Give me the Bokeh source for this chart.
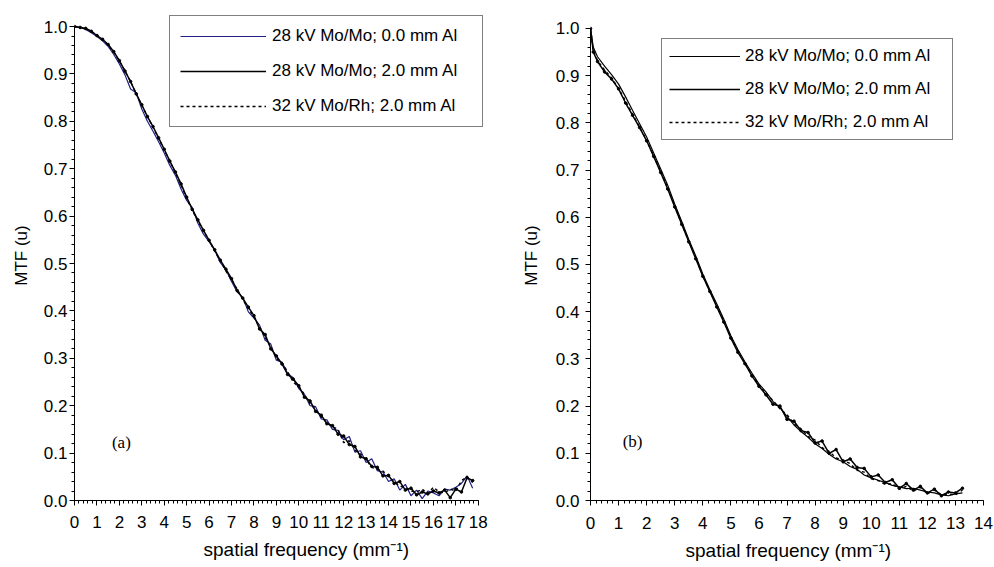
from bokeh.plotting import figure
from bokeh.layouts import row
from bokeh.models import (FixedTicker, Legend, LegendItem, Label, PrintfTickFormatter, Range1d, Title)
from bokeh.embed import file_html
from bokeh.resources import INLINE

# ---------------- data: panel (a) ----------------
freq_a = [0.0, 0.25, 0.5, 0.75, 1.0, 1.25, 1.5, 1.75,
          2.0, 2.25, 2.5, 2.75, 3.0, 3.25, 3.5, 3.75,
          4.0, 4.25, 4.5, 4.75, 5.0, 5.25, 5.5, 5.75,
          6.0, 6.25, 6.5, 6.75, 7.0, 7.25, 7.5, 7.75,
          8.0, 8.25, 8.5, 8.75, 9.0, 9.25, 9.5, 9.75,
          10.0, 10.25, 10.5, 10.75, 11.0, 11.25, 11.5, 11.75,
          12.0, 12.25, 12.5, 12.75, 13.0, 13.25, 13.5, 13.75,
          14.0, 14.25, 14.5, 14.75, 15.0, 15.25, 15.5, 15.75,
          16.0, 16.25, 16.5, 16.75, 17.0, 17.25, 17.5, 17.75]

mtf_a_28mo_0al = [1.000, 0.998, 0.994, 0.987, 0.979, 0.970, 0.958, 0.941,
                  0.921, 0.898, 0.868, 0.860, 0.826, 0.800, 0.779, 0.757,
                  0.733, 0.707, 0.686, 0.657, 0.633, 0.618, 0.585, 0.562,
                  0.546, 0.528, 0.502, 0.487, 0.462, 0.440, 0.428, 0.398,
                  0.385, 0.370, 0.338, 0.330, 0.296, 0.292, 0.268, 0.259,
                  0.236, 0.224, 0.200, 0.198, 0.172, 0.170, 0.150, 0.148,
                  0.128, 0.135, 0.102, 0.105, 0.080, 0.088, 0.063, 0.060,
                  0.040, 0.046, 0.022, 0.034, 0.010, 0.022, 0.004, 0.020,
                  0.016, 0.010, 0.024, 0.022, 0.028, 0.036, 0.052, 0.026]

mtf_a_28mo_2al = [1.000, 0.998, 0.996, 0.990, 0.981, 0.973, 0.962, 0.947,
                  0.928, 0.906, 0.884, 0.858, 0.835, 0.810, 0.789, 0.765,
                  0.741, 0.716, 0.693, 0.668, 0.640, 0.614, 0.592, 0.570,
                  0.549, 0.529, 0.507, 0.488, 0.468, 0.443, 0.427, 0.408,
                  0.390, 0.362, 0.350, 0.320, 0.305, 0.288, 0.266, 0.256,
                  0.242, 0.218, 0.210, 0.188, 0.180, 0.162, 0.158, 0.140,
                  0.136, 0.118, 0.114, 0.092, 0.088, 0.072, 0.070, 0.052,
                  0.053, 0.036, 0.040, 0.022, 0.026, 0.012, 0.018, 0.014,
                  0.020, 0.016, 0.022, 0.006, 0.024, 0.018, 0.048, 0.042]

mtf_a_32rh_2al = [1.000, 0.999, 0.995, 0.990, 0.982, 0.972, 0.961, 0.946,
                  0.927, 0.907, 0.883, 0.859, 0.833, 0.811, 0.787, 0.764,
                  0.740, 0.716, 0.691, 0.665, 0.638, 0.612, 0.590, 0.569,
                  0.549, 0.526, 0.506, 0.484, 0.466, 0.446, 0.424, 0.405,
                  0.387, 0.366, 0.344, 0.324, 0.300, 0.290, 0.272, 0.250,
                  0.240, 0.224, 0.204, 0.192, 0.176, 0.164, 0.156, 0.150,
                  0.122, 0.126, 0.106, 0.098, 0.086, 0.070, 0.066, 0.062,
                  0.050, 0.040, 0.030, 0.028, 0.020, 0.018, 0.024, 0.014,
                  0.028, 0.018, 0.016, 0.024, 0.020, 0.042, 0.050, 0.038]

# ---------------- data: panel (b) ----------------
freq_b = [0.0, 0.1, 0.25, 0.5, 0.75, 1.0, 1.25, 1.5, 1.75, 2.0,
          2.25, 2.5, 2.75, 3.0, 3.25, 3.5, 3.75, 4.0, 4.25, 4.5,
          4.75, 5.0, 5.25, 5.5, 5.75, 6.0, 6.25, 6.5, 6.75, 7.0,
          7.25, 7.5, 7.75, 8.0, 8.25, 8.5, 8.75, 9.0, 9.25, 9.5,
          9.75, 10.0, 10.25, 10.5, 10.75, 11.0, 11.25, 11.5, 11.75, 12.0,
          12.25, 12.5, 12.75, 13.0, 13.25]

mtf_b_28mo_0al = [1.000, 0.960, 0.940, 0.920, 0.902, 0.882, 0.855, 0.826, 0.798, 0.770,
                  0.736, 0.702, 0.668, 0.628, 0.591, 0.553, 0.518, 0.480, 0.447, 0.416,
                  0.384, 0.349, 0.320, 0.294, 0.270, 0.247, 0.230, 0.210, 0.196, 0.178,
                  0.160, 0.146, 0.134, 0.120, 0.110, 0.098, 0.088, 0.082, 0.072, 0.066,
                  0.054, 0.048, 0.043, 0.038, 0.032, 0.029, 0.025, 0.026, 0.022, 0.018,
                  0.016, 0.012, 0.010, 0.014, 0.016]

mtf_b_28mo_2al = [1.000, 0.950, 0.930, 0.908, 0.893, 0.872, 0.842, 0.816, 0.790, 0.762,
                  0.729, 0.695, 0.660, 0.622, 0.585, 0.548, 0.512, 0.475, 0.443, 0.410,
                  0.378, 0.344, 0.314, 0.290, 0.264, 0.242, 0.224, 0.204, 0.200, 0.172,
                  0.168, 0.148, 0.144, 0.122, 0.126, 0.100, 0.108, 0.082, 0.088, 0.070,
                  0.068, 0.050, 0.054, 0.038, 0.044, 0.026, 0.036, 0.022, 0.030, 0.016,
                  0.024, 0.010, 0.018, 0.016, 0.026]

mtf_b_32rh_2al = [1.000, 0.952, 0.932, 0.912, 0.895, 0.873, 0.846, 0.818, 0.791, 0.763,
                  0.730, 0.697, 0.662, 0.624, 0.586, 0.550, 0.514, 0.476, 0.444, 0.412,
                  0.380, 0.346, 0.316, 0.291, 0.266, 0.245, 0.226, 0.212, 0.194, 0.182,
                  0.162, 0.152, 0.136, 0.128, 0.112, 0.104, 0.090, 0.086, 0.078, 0.064,
                  0.060, 0.046, 0.042, 0.034, 0.036, 0.024, 0.030, 0.020, 0.028, 0.014,
                  0.022, 0.012, 0.014, 0.012, 0.022]

series_labels = ["28 kV Mo/Mo; 0.0 mm Al",
                 "28 kV Mo/Mo; 2.0 mm Al",
                 "32 kV Mo/Rh; 2.0 mm Al"]

y_ticks = [0.0, 0.1, 0.2, 0.3, 0.4, 0.5, 0.6, 0.7, 0.8, 0.9, 1.0]
x_title = "spatial frequency (mm\u207b\u00b9)"
y_title = "MTF (u)"

FONT = "Liberation Sans"
FS = "17px"


def make_panel(freq, s1, s2, s3, xmax, x_end, y_end, s1_color, borders, ylab_standoff,
               xlab_standoff, ylab_label_standoff, legend_geom, letter, letter_pos,
               xtitle_offset):
    bl, br, bt, bb = borders
    p = figure(width=497, height=567, output_backend="svg", toolbar_location=None,
               x_range=Range1d(0, x_end), y_range=Range1d(0, y_end),
               min_border_left=bl, min_border_right=br,
               min_border_top=bt, min_border_bottom=bb)
    p.xgrid.visible = False
    p.ygrid.visible = False
    p.outline_line_color = None
    p.background_fill_color = "white"
    p.border_fill_color = "white"

    xmaj = list(range(0, xmax + 1))
    xmin = [round(i * 0.2, 1) for i in range(0, xmax * 5 + 1)]
    ymin = [round(i * 0.02, 2) for i in range(0, 51)]
    p.xaxis.ticker = FixedTicker(ticks=xmaj, minor_ticks=xmin)
    p.yaxis.ticker = FixedTicker(ticks=y_ticks, minor_ticks=ymin)
    p.yaxis.formatter = PrintfTickFormatter(format="%.1f")
    p.xaxis.bounds = (0, xmax)
    p.yaxis.bounds = (0, 1.0)

    for ax in (p.xaxis[0], p.yaxis[0]):
        ax.axis_line_color = "black"
        ax.axis_line_width = 1
        ax.major_tick_line_color = "black"
        ax.minor_tick_line_color = "black"
        ax.major_tick_in = 0
        ax.major_tick_out = 5
        ax.minor_tick_in = 0
        ax.minor_tick_out = 3
        ax.major_label_text_font = FONT
        ax.major_label_text_font_size = FS
        ax.major_label_text_color = "black"
        ax.axis_label_text_font = FONT
        ax.axis_label_text_font_size = FS
        ax.axis_label_text_font_style = "normal"
        ax.axis_label_text_color = "black"
    p.xaxis.major_label_standoff = xlab_standoff
    p.yaxis.major_label_standoff = ylab_standoff
    p.yaxis.axis_label = y_title
    p.yaxis.axis_label_standoff = ylab_label_standoff

    r1 = p.line(freq, s1, line_color=s1_color, line_width=1.2)
    r3 = p.line(freq, s3, line_color="black", line_width=1.4, line_dash="3 3")
    r2 = p.line(freq, s2, line_color="black", line_width=1.5)
    p.scatter(freq, s2, marker="circle", size=2.6, fill_color="black", line_color="black")

    lx, ly, pad, gw, stand, lw, spacing = legend_geom
    legend = Legend(items=[LegendItem(label=series_labels[0], renderers=[r1]),
                           LegendItem(label=series_labels[1], renderers=[r2]),
                           LegendItem(label=series_labels[2], renderers=[r3])],
                    location=(lx, ly), padding=pad, glyph_width=gw, glyph_height=20,
                    label_height=20, label_width=lw, label_standoff=stand, spacing=spacing,
                    border_line_color="black", border_line_width=1,
                    background_fill_color="white", background_fill_alpha=1.0,
                    label_text_font=FONT, label_text_font_size=FS, label_text_color="black")
    p.add_layout(legend, "center")

    p.add_layout(Label(x=letter_pos[0], y=letter_pos[1], text=letter,
                       text_font="Liberation Serif", text_font_size="17px",
                       text_align="center", text_baseline="middle", text_color="black"))
    p.add_layout(Title(text=x_title, align="left", offset=xtitle_offset,
                       text_font=FONT, text_font_size="19px", text_font_style="normal",
                       text_color="black", standoff=12), "below")
    return p


pa = make_panel(freq_a, mtf_a_28mo_0al, mtf_a_28mo_2al, mtf_a_32rh_2al, 18, 18.5, 1.0338,
                "#1f1f84", (74, 8, 10, 67), 2, 10, 10,
                (95, 373, 10, 86, 6, 200, 15), "(a)", (2.09, 0.122), 129)
pb = make_panel(freq_b, mtf_b_28mo_0al, mtf_b_28mo_2al, mtf_b_32rh_2al, 14, 14, 1.038,
                "black", (93, 11, 10, 66), 6, 11, 12,
                (71, 360, 7, 71, 5, 200, 13), "(b)", (1.5, 0.124), 95)

layout = row(pa, pb)
open("out.html", "w").write(file_html(layout, INLINE))
